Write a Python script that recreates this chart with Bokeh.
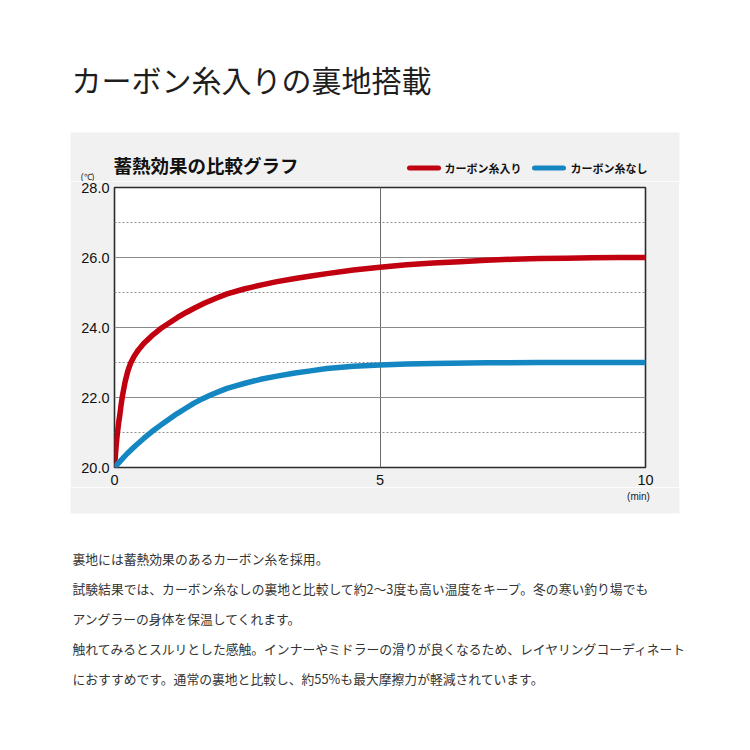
from bokeh.plotting import figure
from bokeh.layouts import column, row, Spacer
from bokeh.models import FixedTicker, PrintfTickFormatter, Range1d
from bokeh.core.properties import value
from bokeh.embed import file_html
from bokeh.resources import INLINE

# ---- data ----
red_minutes = [0, 0.01, 0.02, 0.03, 0.045, 0.06, 0.08, 0.1, 0.125, 0.15, 0.2, 0.25, 0.3, 0.37, 0.45,
               0.55, 0.7, 0.87, 1.0, 1.18, 1.35, 1.5, 1.7, 1.9, 2.12, 2.44, 2.75, 3.06, 3.4, 3.7,
               4.0, 4.5, 5.0, 5.5, 6.0, 6.5, 7.0, 7.5, 8.0, 8.5, 9.0, 9.5, 10.0]
with_carbon = [20.0, 20.2, 20.4, 20.6, 20.85, 21.05, 21.3, 21.5, 21.8, 22.05, 22.45, 22.75, 22.97, 23.18, 23.36,
               23.54, 23.76, 23.97, 24.1, 24.28, 24.43, 24.55, 24.7, 24.83, 24.96, 25.1, 25.21, 25.31, 25.4, 25.47,
               25.54, 25.64, 25.72, 25.79, 25.84, 25.88, 25.92, 25.95, 25.97, 25.98, 25.99, 26.0, 26.0]
blue_minutes = [0, 0.1, 0.24, 0.4, 0.55, 0.7, 0.87, 1.0, 1.18, 1.35, 1.49, 1.65, 1.81, 2.0, 2.12, 2.3,
                2.44, 2.75, 3.06, 3.4, 3.69, 4.0, 4.5, 5.0, 5.5, 6.0, 7.0, 8.0, 9.0, 10.0]
without_carbon = [20.0, 20.17, 20.4, 20.63, 20.83, 21.02, 21.21, 21.35, 21.54, 21.7, 21.83, 21.96, 22.07, 22.19, 22.26, 22.34,
                  22.4, 22.52, 22.61, 22.7, 22.76, 22.83, 22.89, 22.93, 22.96, 22.97, 22.99, 23.0, 23.0, 23.0]
y_ticks = [20, 22, 24, 26, 28]
y_minor = [21, 23, 25, 27]
x_ticks = [0, 5, 10]
series_names = ["カーボン糸入り", "カーボン糸なし"]
series_colors = ["#c10010", "#1487c2"]

page_title = "カーボン糸入りの裏地搭載"
chart_title = "蓄熱効果の比較グラフ"
y_unit = "(℃)"
x_unit = "(min)"
body_lines = [
    "裏地には蓄熱効果のあるカーボン糸を採用。",
    "試験結果では、カーボン糸なしの裏地と比較して約2〜3度も高い温度をキープ。冬の寒い釣り場でも",
    "アングラーの身体を保温してくれます。",
    "触れてみるとスルリとした感触。インナーやミドラーの滑りが良くなるため、レイヤリングコーディネート",
    "におすすめです。通常の裏地と比較し、約55%も最大摩擦力が軽減されています。",
]

JP = "Noto Sans CJK JP"
NUM = "Liberation Sans"
PANEL = "#f1f1f2"
PANEL_X0, PANEL_X1 = 70, 679


def text_fig(w, h):
    """A figure whose frame is the whole canvas, y measured downward in pixels."""
    f = figure(width=w, height=h, x_range=Range1d(0, w), y_range=Range1d(h, 0),
               x_axis_type=None, y_axis_type=None, output_backend="svg",
               toolbar_location=None, min_border=0)
    f.min_border_left = f.min_border_right = f.min_border_top = f.min_border_bottom = 0
    f.border_fill_color = "white"
    f.background_fill_color = "white"
    f.outline_line_color = None
    f.grid.visible = False
    return f


def put(f, x, y, text, size, font=JP, style="normal", color="#222222", align="left"):
    f.text(x=[x], y=[y], text=[text], text_font=value(font), text_font_style=style,
           text_font_size=value(size), text_color=color, text_align=align,
           text_baseline="middle")


# ---- page title + top of gray panel (page y 0..181) ----
top = text_fig(750, 181)
top.quad(left=[PANEL_X0], right=[PANEL_X1], top=[132], bottom=[181],
         fill_color=PANEL, line_color=None)
put(top, 71, 78, page_title, "30px", color="#1e1e1e")
put(top, 113, 164, chart_title, "18.5px", style="bold", color="#111111")
put(top, 87, 176, y_unit, "8.5px", font=NUM, color="#222222", align="center")
# legend swatches and labels
top.segment(x0=[409, 534], y0=[167.5, 167.5], x1=[438, 563], y1=[167.5, 167.5],
            line_color=series_colors, line_width=5, line_cap="round")
put(top, 444, 167, series_names[0], "11px", style="bold", color="#111111")
put(top, 570, 167, series_names[1], "11px", style="bold", color="#111111")

# ---- main chart (page y 181..487), frame page x 114..645, y 187..467 ----
p = figure(width=609, height=306, x_range=(0, 10), y_range=(20, 28),
           output_backend="svg", toolbar_location=None,
           min_border_left=44, min_border_right=34,
           min_border_top=6, min_border_bottom=20)
p.border_fill_color = PANEL
p.background_fill_color = "white"
p.outline_line_color = "#2b2b2b"
p.outline_line_width = 1.6

for ax in (p.xaxis[0], p.yaxis[0]):
    ax.axis_line_color = None
    ax.major_tick_line_color = None
    ax.minor_tick_line_color = None
    ax.major_tick_out = 0
    ax.major_tick_in = 0
    ax.minor_tick_out = 0
    ax.minor_tick_in = 0
    ax.major_label_text_font = NUM
    ax.major_label_text_font_size = "14.5px"
    ax.major_label_text_color = "#111111"

p.yaxis[0].ticker = FixedTicker(ticks=y_ticks, minor_ticks=y_minor)
p.yaxis[0].formatter = PrintfTickFormatter(format="%.1f")
p.yaxis[0].major_label_standoff = 5
p.xaxis[0].ticker = FixedTicker(ticks=x_ticks)
p.xaxis[0].major_label_standoff = 7

p.ygrid[0].ticker = FixedTicker(ticks=y_ticks, minor_ticks=y_minor)
p.ygrid[0].grid_line_color = "#8a8a8a"
p.ygrid[0].grid_line_width = 1
p.ygrid[0].minor_grid_line_color = "#8f8f8f"
p.ygrid[0].minor_grid_line_dash = "2 2"
p.ygrid[0].minor_grid_line_width = 1
p.xgrid[0].ticker = FixedTicker(ticks=x_ticks)
p.xgrid[0].grid_line_color = "#6a6a6a"
p.xgrid[0].grid_line_width = 1

p.line(red_minutes, with_carbon, line_width=5.5, line_color=series_colors[0],
       line_join="round", line_cap="round")
p.line(blue_minutes, without_carbon, line_width=5.5, line_color=series_colors[1],
       line_join="round", line_cap="round")

# ---- bottom of gray panel + body text (page y 487..750) ----
body = text_fig(750, 263)
body.quad(left=[PANEL_X0], right=[PANEL_X1], top=[0], bottom=[26],
          fill_color=PANEL, line_color=None)
put(body, 638, 9, x_unit, "10px", font=NUM, color="#222222", align="center")
for i, line in enumerate(body_lines):
    put(body, 72, 71 + 30 * i, line, "12.8px", color="#333333")

middle = row(Spacer(width=PANEL_X0, height=306), p,
             Spacer(width=750 - PANEL_X1, height=306), spacing=0)
layout = column(top, middle, body, spacing=0)

open("out.html", "w").write(file_html(layout, INLINE))
